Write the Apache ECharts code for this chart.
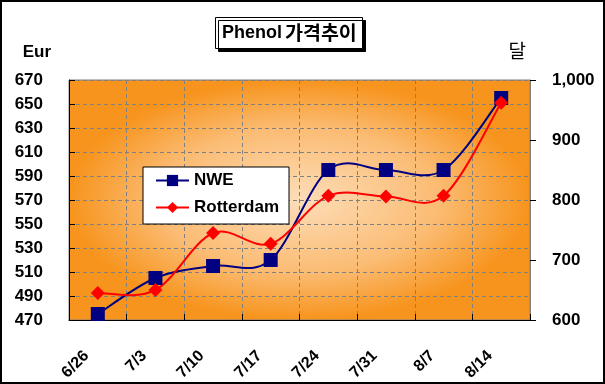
<!DOCTYPE html>
<html>
<head>
<meta charset="utf-8">
<script src="https://cdn.jsdelivr.net/npm/echarts@6/dist/echarts.min.js"></script>
<style>
html,body{margin:0;padding:0;background:#fff;}
#wrap{position:relative;width:605px;height:384px;}
#chart{position:absolute;left:0;top:0;width:605px;height:384px;}
#frame{position:absolute;left:0;top:0;width:605px;height:384px;box-sizing:border-box;border:2px solid #000;pointer-events:none;}
</style>
</head>
<body>
<div id="wrap"><div id="chart"></div><div id="frame"></div></div>
<script>
const categories = ['6/26','7/3','7/10','7/17','7/24','7/31','8/7','8/14'];
const nweValues = [475, 505, 515, 520, 595, 595, 595, 655];
const rotterdamValues = [645, 650, 745, 727, 807, 806, 807, 962];
const leftAxisRange = [470, 670, 20];
const rightAxisRange = [600, 1000, 100];

const FONT = '"Liberation Sans", Arial, sans-serif';
const KFONT = '"Noto Sans CJK KR", sans-serif';
const chart = echarts.init(document.getElementById('chart'), null, {renderer:'canvas'});

const gx = 69, gy = 80, gw = 461, gh = 240;

// Excel-like smoothed curve (Catmull-Rom converted to cubic Bezier), positions from api.coord
function smoothCurve(values, color) {
  return function (params, api) {
    if (params.dataIndex !== 0) return null;
    const pts = values.map((v, i) => api.coord([i, v]));
    const n = pts.length;
    const children = [];
    for (let i = 0; i < n - 1; i++) {
      const p0 = pts[Math.max(i - 1, 0)], p1 = pts[i], p2 = pts[i + 1], p3 = pts[Math.min(i + 2, n - 1)];
      children.push({
        type: 'bezierCurve',
        shape: {
          x1: p1[0], y1: p1[1], x2: p2[0], y2: p2[1],
          cpx1: p1[0] + (p2[0] - p0[0]) / 6, cpy1: p1[1] + (p2[1] - p0[1]) / 6,
          cpx2: p2[0] - (p3[0] - p1[0]) / 6, cpy2: p2[1] - (p3[1] - p1[1]) / 6
        },
        style: {stroke: color, lineWidth: 2, fill: null}
      });
    }
    return {type: 'group', children};
  };
}

chart.setOption({
  animation: false,
  backgroundColor: '#fff',
  title: {
    text: '{b|Phenol}{k|가격추이}',
    left: 215, top: 17,
    padding: [6, 6, 6, 7],
    backgroundColor: '#fff',
    borderColor: '#000', borderWidth: 1,
    shadowColor: '#000', shadowOffsetX: 3, shadowOffsetY: 3, shadowBlur: 0,
    textStyle: {
      rich: {
        b: {fontFamily: FONT, fontWeight: 'bold', fontSize: 18, color: '#000', lineHeight: 20, padding: [0, 3, 0, 0]},
        k: {fontFamily: KFONT, fontSize: 19.5, color: '#000', lineHeight: 20}
      }
    }
  },
  graphic: [{
    type: 'rect', z: -10, silent: true,
    x: gx, y: gy, scaleX: gw / gh,
    shape: {x: 0, y: 0, width: gh, height: gh},
    style: {
      fill: new echarts.graphic.RadialGradient(0.5, 0.5, 0.5, [
        {offset: 0, color: '#FDDDB8'},
        {offset: 0.6, color: '#FBBC74'},
        {offset: 1, color: '#F7941D'}
      ])
    }
  }],
  grid: {left: gx, top: gy, width: gw, height: gh, show: true, backgroundColor: 'transparent', borderColor: '#808080', borderWidth: 1},
  legend: {
    left: 143, top: 167,
    orient: 'vertical',
    backgroundColor: '#fff', borderColor: '#000', borderWidth: 1,
    padding: [5, 10, 8, 12],
    itemGap: 10, itemWidth: 33, itemHeight: 14,
    lineStyle: {opacity: 1, width: 2},
    textStyle: {fontFamily: FONT, fontWeight: 'bold', fontSize: 17, color: '#000'},
    data: ['NWE', 'Rotterdam']
  },
  xAxis: {
    type: 'category', data: categories, boundaryGap: true,
    axisLine: {lineStyle: {color: '#000', width: 1}},
    axisTick: {show: true, inside: true, length: 6, lineStyle: {color: '#000'}},
    splitLine: {show: true, lineStyle: {color: '#808080', type: [4, 3]}},
    axisLabel: {rotate: 45, margin: 22, padding: [0, 16, 0, 0], fontFamily: FONT, fontWeight: 'bold', fontSize: 16, color: '#000'}
  },
  yAxis: [{
    type: 'value', min: leftAxisRange[0], max: leftAxisRange[1], interval: leftAxisRange[2],
    name: 'Eur', nameLocation: 'end', nameGap: 19,
    nameTextStyle: {fontFamily: FONT, fontWeight: 'bold', fontSize: 17, color: '#000', align: 'right', padding: [0, 18, 0, 0]},
    axisLine: {show: true, lineStyle: {color: '#000'}},
    axisTick: {show: true, inside: true, length: 6, lineStyle: {color: '#000'}},
    splitLine: {show: true, lineStyle: {color: '#808080', type: [4, 3]}},
    axisLabel: {margin: 26, fontFamily: FONT, fontWeight: 'bold', fontSize: 17, color: '#000'}
  }, {
    type: 'value', position: 'right', min: rightAxisRange[0], max: rightAxisRange[1], interval: rightAxisRange[2],
    name: '달', nameLocation: 'end', nameGap: 20,
    nameTextStyle: {fontFamily: KFONT, fontSize: 19, color: '#000', align: 'right', padding: [0, 4, 0, 0]},
    axisLine: {show: true, lineStyle: {color: '#808080'}},
    axisTick: {show: true, length: 6, lineStyle: {color: '#000'}},
    splitLine: {show: false},
    axisLabel: {margin: 22, fontFamily: FONT, fontWeight: 'bold', fontSize: 17, color: '#000',
      formatter: v => v.toLocaleString('en-US')}
  }],
  series: [{
    name: 'NWE-curve', type: 'custom', yAxisIndex: 0, silent: true,
    data: nweValues.map((v, i) => [i, v]),
    renderItem: smoothCurve(nweValues, '#000080'), z: 2
  }, {
    name: 'Rotterdam-curve', type: 'custom', yAxisIndex: 1, silent: true,
    data: rotterdamValues.map((v, i) => [i, v]),
    renderItem: smoothCurve(rotterdamValues, '#FF0000'), z: 2
  }, {
    name: 'NWE', type: 'line', yAxisIndex: 0, data: nweValues,
    symbol: 'rect', symbolSize: 14, z: 3,
    lineStyle: {color: '#000080', width: 2, opacity: 0},
    itemStyle: {color: '#000080'}
  }, {
    name: 'Rotterdam', type: 'line', yAxisIndex: 1, data: rotterdamValues,
    symbol: 'diamond', symbolSize: 14, z: 4,
    lineStyle: {color: '#FF0000', width: 2, opacity: 0},
    itemStyle: {color: '#FF0000'}
  }]
});
</script>
</body>
</html>
